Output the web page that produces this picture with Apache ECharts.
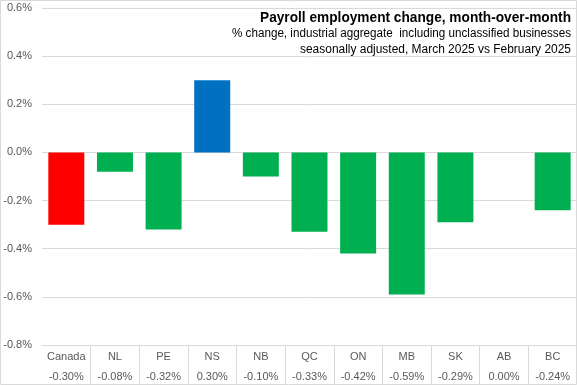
<!DOCTYPE html>
<html><head><meta charset="utf-8">
<script src="https://cdn.jsdelivr.net/npm/echarts@6/dist/echarts.min.js"></script>
<style>html,body{margin:0;padding:0;background:#fff}#c{width:577px;height:385px}</style>
</head><body><div id="c"></div>
<script>
const categories = ['Canada','NL','PE','NS','NB','QC','ON','MB','SK','AB','BC'];
const values = [-0.30,-0.08,-0.32,0.30,-0.10,-0.33,-0.42,-0.59,-0.29,0.00,-0.24];
const barColors = ['#FF0000','#00B050','#00B050','#0070C0','#00B050','#00B050','#00B050','#00B050','#00B050','#00B050','#00B050'];
const titleText = 'Payroll employment change, month-over-month';
const subLine1 = '% change, industrial aggregate  including unclassified businesses';
const subLine2 = 'seasonally adjusted, March 2025 vs February 2025';

const font = 'Liberation Sans, Arial, sans-serif';
const cv = document.createElement('canvas').getContext('2d');
function fitScale(text, weight, size, target){
  cv.font = weight + ' ' + size + 'px ' + font;
  return Math.min(1, target / cv.measureText(text).width);
}
function titleEl(text, weight, size, target, y){
  return {type:'text', x:571, y:y, scaleX:fitScale(text, weight, size, target), originX:0, originY:0,
    style:{text:text, font:weight+' '+size+'px '+font, fill:'#000', textAlign:'right', textVerticalAlign:'middle'}};
}

const chart = echarts.init(document.getElementById('c'), null, {renderer:'canvas'});
chart.setOption({
  animation:false,
  textStyle:{fontFamily:font},
  graphic:[
    {type:'rect', shape:{x:0.5,y:0.5,width:576,height:384}, style:{fill:'none',stroke:'#d9d9d9',lineWidth:1}, z:100},
    titleEl(titleText, 'bold', 15, 311, 18),
    titleEl(subLine1, 'normal', 12, 339, 34),
    titleEl(subLine2, 'normal', 12, 271, 50)
  ],
  grid:{left:42,right:0,top:8,bottom:40,containLabel:false},
  xAxis:{
    type:'category', data:categories, position:'bottom',
    axisLine:{onZero:false, lineStyle:{color:'#d9d9d9'}},
    axisTick:{show:true, length:39, interval:function(i){return i>0;}, lineStyle:{color:'#d9d9d9'}},
    axisLabel:{
      interval:0, margin:2,
      formatter:function(v){
        const idx = categories.indexOf(v);
        return '{a|'+v+'}\n{a|'+values[idx].toFixed(2)+'%}';
      },
      rich:{a:{fontSize:11, color:'#595959', lineHeight:20, fontFamily:font}}
    }
  },
  yAxis:{
    type:'value', min:-0.8, max:0.6, interval:0.2,
    axisLine:{show:false}, axisTick:{show:false},
    splitLine:{lineStyle:{color:'#d9d9d9'}},
    axisLabel:{color:'#595959', fontSize:11, margin:10, formatter:function(v){return v.toFixed(1)+'%';}}
  },
  series:[{
    type:'bar', barCategoryGap:'26%',
    data:values.map(function(v,i){return {value:v, itemStyle:{color:barColors[i]}};})
  }]
});
</script></body></html>
